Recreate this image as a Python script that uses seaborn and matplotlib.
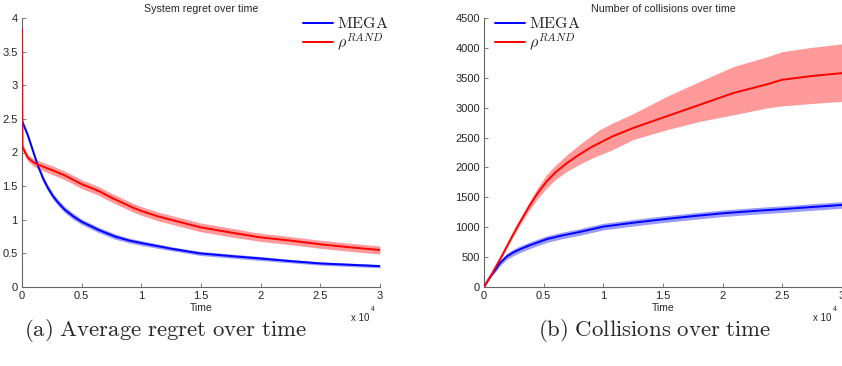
import numpy as np
import pandas as pd
import matplotlib
matplotlib.use("Agg")
import matplotlib.pyplot as plt
import seaborn as sns

# ---------------- data (time in units of 10^4) ----------------
reg_t_mega = [0.0, 0.05, 0.10, 0.134, 0.18, 0.218, 0.26, 0.30, 0.358, 0.43, 0.50, 0.57, 0.64, 0.78, 0.90,
              1.01, 1.25, 1.49, 1.75, 1.99, 2.25, 2.50, 2.75, 3.0]
reg_mega = [2.47, 2.25, 1.98, 1.80, 1.60, 1.47, 1.35, 1.26, 1.15, 1.05, 0.97, 0.91, 0.85, 0.75, 0.69,
            0.65, 0.57, 0.50, 0.46, 0.425, 0.385, 0.35, 0.33, 0.31]
reg_mega_err = [0.03, 0.04, 0.04, 0.04, 0.045, 0.045, 0.045, 0.045, 0.045, 0.045, 0.04, 0.04, 0.04, 0.04, 0.035,
                0.035, 0.03, 0.03, 0.03, 0.03, 0.025, 0.025, 0.025, 0.025]

reg_t_rand = [0.0, 0.004, 0.05, 0.10, 0.134, 0.25, 0.358, 0.50, 0.64, 0.76, 0.93, 1.01, 1.14,
              1.27, 1.49, 1.75, 1.99, 2.25, 2.50, 2.75, 3.0]
reg_rand = [3.84, 2.08, 1.92, 1.85, 1.82, 1.74, 1.66, 1.53, 1.43, 1.32, 1.18, 1.125, 1.05,
            0.99, 0.89, 0.81, 0.74, 0.69, 0.635, 0.59, 0.55]
reg_rand_err = [0.0, 0.05, 0.05, 0.055, 0.06, 0.065, 0.065, 0.065, 0.065, 0.065, 0.065, 0.065, 0.065,
                0.065, 0.065, 0.065, 0.06, 0.06, 0.06, 0.06, 0.06]

col_t_mega = [0.0, 0.05, 0.10, 0.134, 0.19, 0.245, 0.30, 0.385, 0.525, 0.65, 0.80, 1.0,
              1.25, 1.5, 1.75, 2.0, 2.25, 2.5, 2.75, 3.0]
col_mega = [0, 165, 300, 400, 510, 578, 630, 700, 800, 860, 920, 1010,
            1075, 1133, 1185, 1233, 1270, 1303, 1338, 1372]
col_mega_err = [0, 20, 35, 45, 50, 55, 55, 55, 55, 55, 55, 55,
                55, 55, 55, 55, 55, 55, 55, 55]

col_t_rand = [0.0, 0.05, 0.10, 0.15, 0.20, 0.25, 0.30, 0.385, 0.45, 0.525, 0.60, 0.70, 0.80, 0.90,
              0.97, 1.08, 1.25, 1.53, 1.81, 2.09, 2.37, 2.50, 2.75, 3.0]
col_rand = [0, 160, 340, 520, 710, 900, 1080, 1370, 1570, 1765, 1920, 2080, 2217, 2340,
            2411, 2522, 2660, 2855, 3050, 3245, 3390, 3467, 3530, 3578]
col_rand_lo = [0, 150, 320, 495, 680, 860, 1030, 1300, 1480, 1655, 1800, 1940, 2050, 2150,
               2210, 2300, 2467, 2630, 2772, 2880, 2995, 3030, 3070, 3105]
col_rand_hi = [0, 170, 360, 545, 740, 940, 1130, 1440, 1660, 1880, 2040, 2220, 2383, 2530,
               2633, 2745, 2900, 3188, 3440, 3688, 3850, 3938, 4010, 4067]

# ---------------- styling ----------------
sns.set_style("white")
plt.rcParams["font.family"] = ["Liberation Sans", "DejaVu Sans"]
plt.rcParams["mathtext.fontset"] = "cm"

BLUE = "#0000ff"
RED = "#ff0000"
BAND_B = "#9a9aff"
BAND_R = "#ff9a9a"

fig = plt.figure(figsize=(8.42, 3.66), dpi=100)
ax1 = fig.add_axes([22 / 842, 1 - 287 / 366, 358 / 842, 269 / 366])
ax2 = fig.add_axes([484 / 842, 1 - 287 / 366, 358 / 842, 269 / 366])


def draw(ax, t, y, lo, hi, color, band, label):
    ax.fill_between(t, lo, hi, color=band, linewidth=0, zorder=1)
    df = pd.DataFrame({"Time": t, "val": y})
    sns.lineplot(data=df, x="Time", y="val", ax=ax, color=color, linewidth=1.4,
                 label=label, zorder=3, estimator=None)


lab_mega = r"$\mathrm{MEGA}$"
lab_rand = r"$\rho^{RAND}$"
leg_kw = dict(frameon=False, fontsize=11.5, handlelength=1.9, borderaxespad=0.0,
              labelspacing=0.0, handletextpad=0.25, loc="upper left")

# left: regret
m = np.array(reg_mega); e = np.array(reg_mega_err)
draw(ax1, reg_t_mega, reg_mega, m - e, m + e, BLUE, BAND_B, lab_mega)
r = np.array(reg_rand); er = np.array(reg_rand_err)
draw(ax1, reg_t_rand, reg_rand, r - er, r + er, RED, BAND_R, lab_rand)
ax1.set_ylim(0, 4)
ax1.set_yticks([0, 0.5, 1, 1.5, 2, 2.5, 3, 3.5, 4])
ax1.set_yticklabels(["0", "0.5", "1", "1.5", "2", "2.5", "3", "3.5", "4"])
ax1.set_title("System regret over time", fontsize=7.7, pad=4)
ax1.legend(bbox_to_anchor=(0.767, 1.03), **leg_kw)

# right: collisions
cm_ = np.array(col_mega); ce = np.array(col_mega_err)
draw(ax2, col_t_mega, col_mega, cm_ - ce, cm_ + ce, BLUE, BAND_B, lab_mega)
draw(ax2, col_t_rand, col_rand, col_rand_lo, col_rand_hi, RED, BAND_R, lab_rand)
ax2.set_ylim(0, 4500)
ax2.set_yticks(list(range(0, 4501, 500)))
ax2.set_title("Number of collisions over time", fontsize=7.7, pad=4)
ax2.legend(bbox_to_anchor=(0.012, 1.03), **leg_kw)

for ax in (ax1, ax2):
    ax.set_xlim(0, 3)
    ax.set_xticks([0, 0.5, 1, 1.5, 2, 2.5, 3])
    ax.set_xticklabels(["0", "0.5", "1", "1.5", "2", "2.5", "3"])
    ax.set_xlabel("Time", fontsize=7.5, labelpad=1)
    ax.set_ylabel("")
    for s in ("top", "right"):
        ax.spines[s].set_visible(False)
    for s in ("left", "bottom"):
        ax.spines[s].set_color("#666666")
        ax.spines[s].set_linewidth(0.8)
    ax.tick_params(direction="in", length=3, width=0.6, color="#666666",
                   labelsize=8, pad=3, left=True, bottom=True)
    ax.text(0.97, -0.095, "x 10", transform=ax.transAxes, fontsize=7,
            ha="right", va="top")
    ax.text(0.975, -0.07, "4", transform=ax.transAxes, fontsize=5,
            ha="left", va="top")

fig.text(165 / 842, 1 - 330 / 366, r"$\mathrm{(a)\ Average\ regret\ over\ time}$",
         fontsize=16.4, ha="center", va="center")
fig.text(655 / 842, 1 - 330 / 366, r"$\mathrm{(b)\ Collisions\ over\ time}$",
         fontsize=16.4, ha="center", va="center")

fig.savefig("out.png", dpi=100)
